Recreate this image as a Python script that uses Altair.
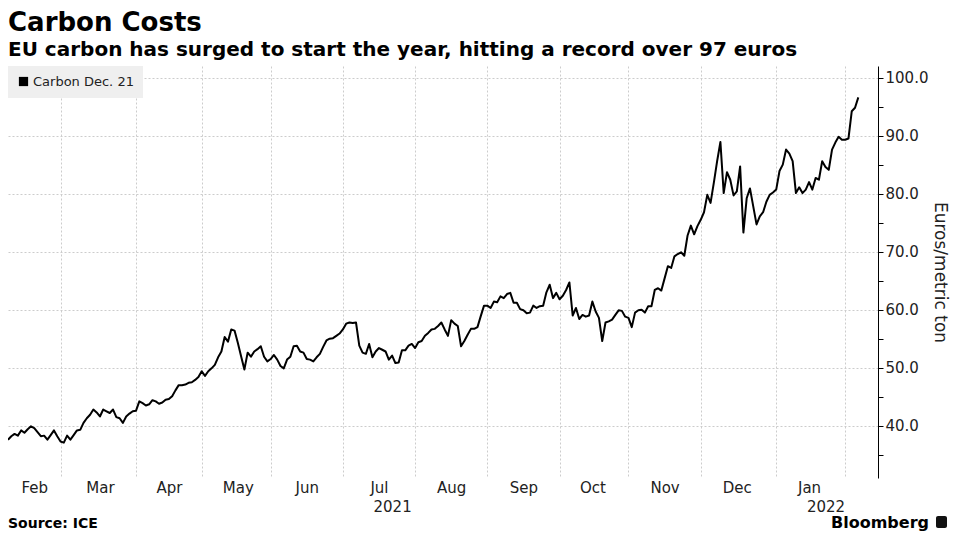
import altair as alt
import pandas as pd

# ---------------- texts ----------------
title_text = "Carbon Costs"
subtitle_text = "EU carbon has surged to start the year, hitting a record over 97 euros"
series_name = "Carbon Dec. 21"
y_title = "Euros/metric ton"
source_text = "Source: ICE"
brand_text = "Bloomberg"

month_labels = ["Feb", "Mar", "Apr", "May", "Jun", "Jul", "Aug", "Sep", "Oct", "Nov", "Dec", "Jan"]
year_labels = ["2021", "2022"]
y_ticks = [35, 40, 45, 50, 55, 60, 65, 70, 75, 80, 85, 90, 95, 100]
y_domain = [31, 102]

# ---------------- daily settlement values, one per trading day ----------------
feb_2021 = [37.6, 38.2, 38.6, 38.3, 39.2, 38.8, 39.4, 39.9, 39.6, 38.9, 38.2, 38.3, 37.6, 38.4, 39.2, 38.2]
mar_2021 = [37.3, 37.1, 38.3, 37.6, 38.4, 39.2, 39.3, 40.5, 41.3, 41.9, 42.8, 42.3, 41.6, 42.8, 42.5, 42.2,
            42.8, 41.5, 41.3, 40.5, 41.6, 42.1, 42.5]
apr_2021 = [42.6, 44.2, 43.9, 43.5, 43.7, 44.4, 44.2, 43.8, 44.0, 44.5, 44.6, 45.1, 46.1, 47.0, 47.0, 47.1,
            47.4, 47.5, 47.9, 48.4]
may_2021 = [49.4, 48.6, 49.4, 49.9, 50.5, 51.8, 52.8, 55.3, 54.5, 56.6, 56.4, 54.3, 52.0, 49.7, 52.6, 51.9,
            52.8, 53.2, 53.7, 51.9, 51.1]
jun_2021 = [51.5, 52.2, 51.4, 50.3, 49.9, 51.4, 51.9, 53.7, 53.8, 52.8, 52.6, 51.5, 51.4, 51.1, 51.8, 52.4,
            53.6, 54.7, 55.0, 55.1, 55.5, 55.9]
jul_2021 = [56.6, 57.6, 57.8, 57.7, 57.8, 53.8, 52.6, 52.4, 54.1, 51.8, 52.8, 53.4, 53.1, 52.8, 51.4, 52.1,
            50.8, 50.9, 53.0, 53.0, 53.8, 54.1]
aug_2021 = [53.4, 54.4, 54.6, 55.5, 56.0, 56.6, 56.7, 57.2, 57.8, 56.6, 55.5, 58.2, 57.6, 57.2, 53.7, 54.6,
            55.7, 56.7, 56.7, 57.0, 58.9, 60.7]
sep_2021 = [60.7, 60.3, 61.4, 61.3, 62.3, 62.0, 62.7, 62.9, 61.2, 61.2, 60.1, 59.9, 59.4, 59.5, 60.7, 60.3,
            60.6, 60.7, 63.0, 64.3, 62.0, 62.9]
oct_2021 = [61.8, 62.4, 63.4, 64.7, 59.0, 60.3, 58.4, 59.1, 58.8, 59.0, 61.4, 59.7, 58.6, 54.6, 57.8, 58.0,
            58.3, 59.1, 59.9, 59.8, 58.8]
nov_2021 = [58.6, 57.0, 59.5, 59.9, 60.0, 59.5, 60.6, 60.6, 63.4, 63.7, 63.3, 65.4, 67.5, 67.2, 69.2, 69.6,
            69.9, 69.3, 72.8, 74.5, 73.0, 74.4]
dec_2021 = [75.5, 76.8, 79.8, 78.4, 81.9, 85.6, 88.9, 80.1, 83.7, 82.4, 79.7, 80.4, 84.7, 73.3, 79.2, 80.9,
            77.8, 74.7, 76.1, 76.8, 78.6, 79.8, 80.2]
jan_2022 = [80.7, 83.9, 85.0, 87.6, 86.9, 85.6, 80.1, 81.1, 80.1, 80.7, 82.0, 80.7, 82.7, 82.4, 85.6, 84.6,
            84.1, 87.6, 88.8, 89.8, 89.3]
feb_2022 = [89.3, 89.5, 94.2, 94.8, 96.6]

first_day = "2021-02-05"
last_axis_day = "2022-02-15"
holidays = ["2021-04-02", "2021-04-05"]

# ---------------- build table ----------------
values = (feb_2021 + mar_2021 + apr_2021 + may_2021 + jun_2021 + jul_2021 + aug_2021 + sep_2021
          + oct_2021 + nov_2021 + dec_2021 + jan_2022 + feb_2022)
days = [d.strftime("%Y-%m-%d") for d in pd.bdate_range(first_day, last_axis_day)]
days = [d for d in days if d not in holidays]
df = pd.DataFrame({"date": days[:len(values)], "price": values, "series": series_name})

# month boundaries (first trading day of each month) in the trading-day axis
starts = {}
for i, d in enumerate(days):
    starts.setdefault(d[:7], i)
month_keys = list(starts)
grid_days = [days[starts[m]] for m in month_keys[1:]]
bounds = [0] + [starts[m] for m in month_keys[1:]] + [len(days) - 1]
label_days = [days[int(round((bounds[i] + bounds[i + 1]) / 2))] for i in range(len(month_labels))]
jan_start = starts["2022-01"]
year_days = [days[jan_start // 2], days[(jan_start + len(days) - 1) // 2]]


def lookup_expr(keys, labels):
    expr = "''"
    for k, lab in zip(reversed(keys), reversed(labels)):
        expr = f"datum.value === '{k}' ? '{lab}' : ({expr})"
    return expr


FONT = "DejaVu Sans"
TXT = "#222222"
GRID = "#cccccc"
W, H = 870, 412

xscale = alt.Scale(type="point", domain=days, padding=0)

line = alt.Chart(df).mark_line(strokeWidth=2, strokeJoin="round").encode(
    x=alt.X("date:O", scale=xscale,
            axis=alt.Axis(values=grid_days, labels=False, ticks=False, domain=False, grid=True,
                          gridColor=GRID, gridDash=[2, 2], orient="bottom", title=None)),
    y=alt.Y("price:Q", scale=alt.Scale(domain=y_domain, nice=False, zero=False),
            axis=alt.Axis(orient="right", values=y_ticks,
                          labelExpr="datum.value % 10 === 0 ? format(datum.value, '.1f') : ''",
                          grid=True, gridColor=GRID, gridDash=[2, 2],
                          gridOpacity={"condition": {"test": "datum.value % 10 !== 0", "value": 0}, "value": 1},
                          domainColor="#000000", tickColor="#000000", tickSize=5, labelPadding=2,
                          labelFontSize=15, labelFont=FONT, labelColor=TXT,
                          title=y_title, titleFontSize=17, titleFont=FONT, titleFontWeight="normal",
                          titleColor=TXT, titleAngle=90, titlePadding=3)),
    color=alt.Color("series:N", scale=alt.Scale(range=["#000000"]),
                    legend=alt.Legend(title=None, orient="none", legendX=0, legendY=0,
                                      fillColor="#efefef", padding=9, symbolType="square",
                                      symbolSize=85, labelFontSize=13, labelFont=FONT,
                                      labelColor=TXT, labelOffset=3,
                                      symbolFillColor="#000000", symbolStrokeColor="#000000",
                                      symbolStrokeWidth=0)),
)

month_axis = alt.Chart(pd.DataFrame({"date": label_days})).mark_point(opacity=0).encode(
    x=alt.X("date:O", scale=xscale,
            axis=alt.Axis(values=label_days, labelExpr=lookup_expr(label_days, month_labels),
                          grid=False, ticks=False, domain=False, labelPadding=2, labelAngle=0,
                          labelFontSize=15, labelFont=FONT, labelColor=TXT, orient="bottom",
                          labelOverlap=False, title=None)),
    y=alt.value(0),
)

year_axis = alt.Chart(pd.DataFrame({"date": year_days})).mark_point(opacity=0).encode(
    x=alt.X("date:O", scale=xscale,
            axis=alt.Axis(values=year_days, labelExpr=lookup_expr(year_days, year_labels),
                          grid=False, ticks=False, domain=False, labelPadding=21, labelAngle=0,
                          labelFontSize=15, labelFont=FONT, labelColor=TXT, orient="bottom",
                          labelOverlap=False, title=None)),
    y=alt.value(0),
)

foot = pd.DataFrame({"source": [source_text], "brand": [brand_text]})
source = alt.Chart(foot).mark_text(align="left", baseline="alphabetic", font=FONT, fontSize=14,
                                   fontWeight="bold", color="#000000").encode(
    x=alt.value(0), y=alt.value(462), text="source:N")
brand = alt.Chart(foot).mark_text(align="right", baseline="alphabetic", font=FONT, fontSize=16,
                                  fontWeight="bold", color="#000000").encode(
    x=alt.value(921), y=alt.value(462), text="brand:N")
logo = alt.Chart(foot).mark_rect(color="#111111", cornerRadius=2).encode(
    x=alt.value(928), x2=alt.value(939), y=alt.value(450), y2=alt.value(462))

chart = alt.layer(line, month_axis, year_axis, source, brand, logo).resolve_axis(
    x="independent"
).properties(
    width=W, height=H,
    title=alt.TitleParams(text=title_text, subtitle=subtitle_text, anchor="start", frame="group",
                          font=FONT, fontSize=26, fontWeight="bold", color="#000000",
                          subtitleFont=FONT, subtitleFontSize=20, subtitleFontWeight="bold",
                          subtitleColor="#000000", subtitlePadding=4, offset=3),
    padding={"left": 0, "top": 58, "right": 74, "bottom": 54},
    autosize=alt.AutoSizeParams(type="none"),
).configure(font=FONT).configure_view(stroke="transparent")

chart.save("out.html", embed_options={"renderer": "svg", "actions": False})
